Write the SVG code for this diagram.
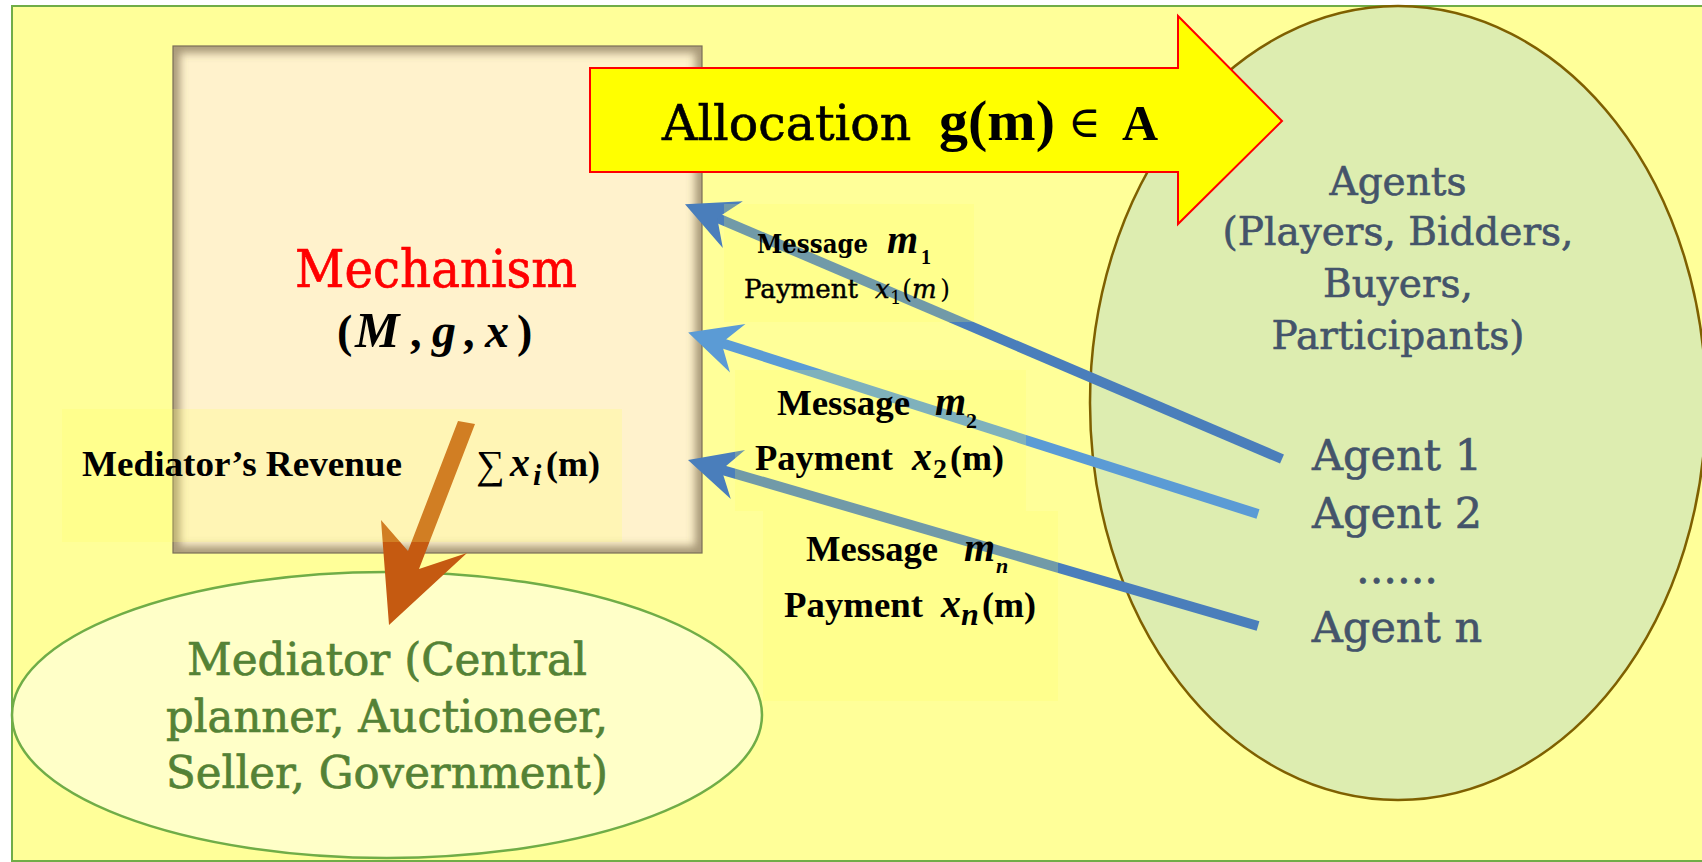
<svg xmlns="http://www.w3.org/2000/svg" width="1702" height="862" viewBox="0 0 1702 862">
<style>
.serif{font-family:"DejaVu Serif","Liberation Serif",serif}
.times{font-family:"Liberation Serif","DejaVu Serif",serif}
.agents{fill:#44546A;stroke:#44546A;stroke-width:0.6;font-family:"DejaVu Serif",serif;text-anchor:middle}
.med{fill:#548235;stroke:#548235;stroke-width:0.7;font-family:"DejaVu Serif",serif;font-size:45px}
.lbl{fill:#000;font-family:"Liberation Serif","DejaVu Serif",serif;font-weight:bold}
.bi{font-style:italic;font-weight:bold}
.lblbox{fill:#FFFF66;opacity:0.22}
</style>
<defs>
<clipPath id="boxClip"><rect x="173" y="46" width="529" height="507"/></clipPath>
<filter id="blur" x="-10%" y="-10%" width="120%" height="120%"><feGaussianBlur stdDeviation="4"/></filter>
<marker id="headA" markerUnits="userSpaceOnUse" overflow="visible" refX="10" refY="0" orient="auto" markerWidth="60" markerHeight="60"><path d="M35,0 L-17,-25.5 L0,0 L-17,25.5 Z" fill="#4A7EBB"/></marker>
<marker id="headB" markerUnits="userSpaceOnUse" overflow="visible" refX="10" refY="0" orient="auto" markerWidth="60" markerHeight="60"><path d="M35,0 L-17,-25.5 L0,0 L-17,25.5 Z" fill="#5B9BD5"/></marker>
<marker id="headC" markerUnits="userSpaceOnUse" overflow="visible" refX="10" refY="0" orient="auto" markerWidth="60" markerHeight="60"><path d="M35,0 L-17,-25.5 L0,0 L-17,25.5 Z" fill="#4A7EBB"/></marker>
</defs>

<rect x="0" y="0" width="1702" height="862" fill="#FFFFFF"/>
<rect id="background" x="12" y="6" width="1700" height="855" fill="#FFFF99" stroke="#70AD47" stroke-width="2"/>

<g id="node-mechanism">
<rect x="173" y="46" width="529" height="507" fill="#FFF2CC"/>
<g clip-path="url(#boxClip)"><rect x="173" y="46" width="529" height="507" fill="none" stroke="#6e5e40" stroke-opacity="0.6" stroke-width="14" filter="url(#blur)"/></g>
<rect x="173" y="46" width="529" height="507" fill="none" stroke="#7a6e58" stroke-width="1.2"/>
<text class="serif" x="295" y="287" font-size="52" fill="#FF0000" stroke="#FF0000" stroke-width="0.7" textLength="282" lengthAdjust="spacingAndGlyphs">Mechanism</text>
<text class="times" y="347" font-size="46" fill="#000"><tspan x="337" font-weight="bold">(</tspan><tspan x="355" class="bi" font-size="50">M</tspan><tspan x="410" font-weight="bold">,</tspan><tspan x="432" class="bi" font-size="48">g</tspan><tspan x="463" font-weight="bold">,</tspan><tspan x="485" class="bi" font-size="48">x</tspan><tspan x="517" font-weight="bold">)</tspan></text>
</g>

<g id="node-mediator">
<ellipse cx="387" cy="715" rx="375" ry="143" fill="#FFFFC8" stroke="#70AD47" stroke-width="2.5"/>
<text class="med" x="187" y="675" textLength="400" lengthAdjust="spacingAndGlyphs">Mediator (Central</text>
<text class="med" x="166" y="732" textLength="442" lengthAdjust="spacingAndGlyphs">planner, Auctioneer,</text>
<text class="med" x="166" y="788" textLength="442" lengthAdjust="spacingAndGlyphs">Seller, Government)</text>
</g>

<g id="node-agents">
<ellipse cx="1398" cy="403" rx="308" ry="397" fill="#DDEDB0" stroke="#7F6000" stroke-width="2.5"/>
<text class="agents" x="1398" y="195" font-size="39">Agents</text>
<text class="agents" x="1398" y="245" font-size="39">(Players, Bidders,</text>
<text class="agents" x="1398" y="297" font-size="39">Buyers,</text>
<text class="agents" x="1398" y="349" font-size="39">Participants)</text>
</g>

<g id="node-allocation">
<polygon points="590,68 1178,68 1178,16 1282,121 1178,224 1178,172 590,172" fill="#FFFF00" stroke="#FF0000" stroke-width="2"/>
<text y="140" fill="#000"><tspan x="662" font-family="DejaVu Serif, serif" font-size="49" stroke="#000" stroke-width="0.6">Allocation</tspan><tspan x="939" font-family="Liberation Serif, serif" font-weight="bold" font-size="58">g(m)</tspan><tspan x="1068" y="137" font-family="DejaVu Serif, serif" font-size="44">∈</tspan><tspan x="1122" y="140" font-family="Liberation Serif, serif" font-weight="bold" font-size="50">A</tspan></text>
</g>

<g id="connectors">
<line id="conn-agent1" x1="1282" y1="459" x2="708" y2="214" stroke="#4A7EBB" stroke-width="10" marker-end="url(#headA)"/>
<line id="conn-agent2" x1="1258" y1="514" x2="712" y2="340" stroke="#5B9BD5" stroke-width="10" marker-end="url(#headB)"/>
<line id="conn-agentn" x1="1258" y1="626" x2="712" y2="467" stroke="#4A7EBB" stroke-width="10" marker-end="url(#headC)"/>
<polygon id="conn-revenue" points="458,421 408,551 381,520 389,625 467,553 419,569 475,424" fill="#C55A11"/>
</g>

<g id="node-agent-list">
<text class="agents" x="1397" y="470" font-size="43">Agent 1</text>
<text class="agents" x="1397" y="528" font-size="43">Agent 2</text>
<text class="agents" x="1397" y="583" font-size="43">......</text>
<text class="agents" x="1397" y="642" font-size="43">Agent n</text>
</g>

<g id="node-revenue-label">
<rect class="lblbox" x="62" y="409" width="560" height="133"/>
<text class="lbl" x="82" y="476" font-size="36" textLength="320" lengthAdjust="spacingAndGlyphs">Mediator’s Revenue</text>
<text class="times" x="476" y="478" font-size="40" fill="#000">∑</text>
<text class="lbl bi" x="510" y="476" font-size="40">x</text>
<text class="lbl bi" x="533" y="485" font-size="30">i</text>
<text class="lbl" x="546" y="476" font-size="36">(m)</text>
</g>

<g id="label-m1">
<rect class="lblbox" x="724" y="204" width="250" height="118"/>
<text class="serif" x="757" y="253" font-size="26" font-weight="bold" fill="#000" textLength="111" lengthAdjust="spacingAndGlyphs">Message</text>
<text class="times bi" x="887" y="253" font-size="40" fill="#000">m</text>
<text class="times" x="921" y="264" font-size="20" font-weight="bold" fill="#000">1</text>
<text class="serif" x="744" y="298" font-size="26" fill="#000" stroke="#000" stroke-width="0.5" textLength="114" lengthAdjust="spacingAndGlyphs">Payment</text>
<text class="serif" x="875" y="298" font-size="26" font-style="italic" fill="#000" stroke="#000" stroke-width="0.4">x</text>
<text class="serif" x="890" y="304" font-size="18" fill="#000">1</text>
<text class="serif" x="902" y="298" font-size="26" fill="#000">(</text>
<text class="serif" x="912" y="298" font-size="26" font-style="italic" fill="#000" stroke="#000" stroke-width="0.4">m</text>
<text class="serif" x="940" y="298" font-size="26" fill="#000">)</text>
</g>

<g id="label-m2">
<rect class="lblbox" x="735" y="370" width="291" height="141"/>
<text class="lbl" x="777" y="415" font-size="36" textLength="133" lengthAdjust="spacingAndGlyphs">Message</text>
<text class="lbl bi" x="935" y="415" font-size="40">m</text>
<text class="lbl" x="966" y="428" font-size="22">2</text>
<text class="lbl" x="755" y="470" font-size="36" textLength="138" lengthAdjust="spacingAndGlyphs">Payment</text>
<text class="lbl bi" x="912" y="470" font-size="40">x</text>
<text class="lbl" x="933" y="478" font-size="28" font-weight="normal">2</text>
<text class="lbl" x="950" y="470" font-size="36">(m)</text>
</g>

<g id="label-mn">
<rect class="lblbox" x="763" y="511" width="295" height="190"/>
<text class="lbl" x="806" y="561" font-size="36" textLength="132" lengthAdjust="spacingAndGlyphs">Message</text>
<text class="lbl bi" x="964" y="561" font-size="40">m</text>
<text class="lbl bi" x="996" y="573" font-size="22">n</text>
<text class="lbl" x="784" y="617" font-size="36" textLength="139" lengthAdjust="spacingAndGlyphs">Payment</text>
<text class="lbl bi" x="941" y="617" font-size="40">x</text>
<text class="lbl bi" x="961" y="625" font-size="32">n</text>
<text class="lbl" x="982" y="617" font-size="36">(m)</text>
</g>
</svg>
